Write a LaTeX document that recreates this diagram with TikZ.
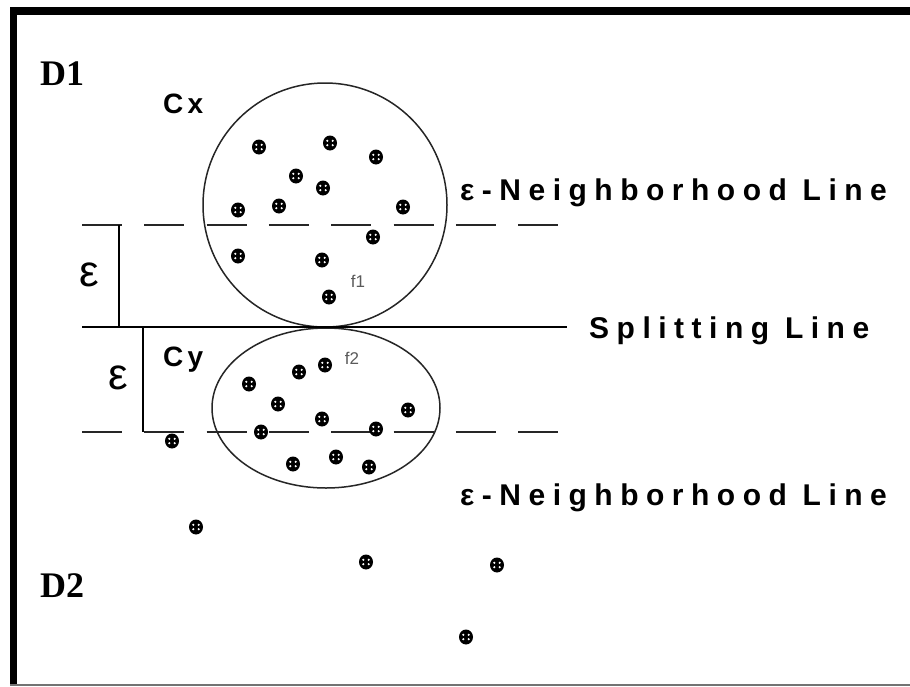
\documentclass[tikz,border=0pt]{standalone}
\usepackage{fontspec}
\setmainfont{Liberation Sans}
\newfontfamily\lsp[LetterSpace=25]{Liberation Sans}
\newfontfamily\lspc[LetterSpace=15]{Liberation Sans}
\newfontfamily\serifb{Liberation Serif}
\usetikzlibrary{shapes.geometric}
\definecolor{lblgray}{RGB}{90,90,90}
\begin{document}
\begin{tikzpicture}[x=1pt,y=-1pt,
  pt/.style={ellipse,fill=black,minimum width=14pt,minimum height=15pt,inner sep=0pt,
    path picture={
      \fill[white] ([shift={(-2.7pt,-2.2pt)}]path picture bounding box.center) circle (1.2pt);
      \fill[white] ([shift={(2.7pt,-2.2pt)}]path picture bounding box.center) circle (1.2pt);
      \fill[white] ([shift={(-2.7pt,2.2pt)}]path picture bounding box.center) circle (1.2pt);
      \fill[white] ([shift={(2.7pt,2.2pt)}]path picture bounding box.center) circle (1.2pt);
    }},
  bigsans/.style={font=\lsp\bfseries\fontsize{30}{34}\selectfont,inner sep=0pt,anchor=base west},
  clab/.style={font=\lspc\bfseries\fontsize{28}{32}\selectfont,inner sep=0pt,anchor=base west},
  dlab/.style={font=\serifb\bfseries\fontsize{36}{40}\selectfont,inner sep=0pt,anchor=base west},
  eps/.style={font=\fontsize{44}{48}\selectfont,inner sep=0pt},
  flab/.style={font=\fontsize{17}{20}\selectfont,text=lblgray,inner sep=0pt},
  dline/.style={line width=1.8pt,draw=black!85,dash pattern=on 40pt off 22.3pt},
  sline/.style={line width=1.8pt,draw=black},
  shape line/.style={draw=black!85,line width=1.5pt}
]
\useasboundingbox (0,0) rectangle (910,686);
\fill[white] (0,0) rectangle (910,686);
% frame
\draw[line width=8pt] (10,11) -- (910,11);
\draw[line width=7pt] (13.5,7) -- (13.5,686);
\draw[line width=2pt,draw=black!55] (10,685) -- (910,685);

% clusters
\node[shape line,circle,minimum size=244pt,inner sep=0pt] (Cx) at (325,205) {};
\node[shape line,ellipse,minimum width=228pt,minimum height=160pt,inner sep=0pt] (Cy) at (326,408) {};

% lines
\coordinate (ua) at (82,225); \coordinate (ub) at (558,225);
\coordinate (la) at (82,432); \coordinate (lb) at (558,432);
\coordinate (sa) at (82,327); \coordinate (sb) at (567,327);
\coordinate (v1t) at (119,225); \coordinate (v1b) at (119,327);
\coordinate (v2t) at (143,327); \coordinate (v2b) at (143,432);
\draw[dline] (ua) -- (ub);
\draw[dline] (la) -- (lb);
\draw[sline] (sa) -- (sb);
\draw[sline] (v1t) -- (v1b);
\draw[sline] (v2t) -- (v2b);

% points in Cx
\node[pt] (p1) at (259,147) {};
\node[pt] (p2) at (330,143) {};
\node[pt] (p3) at (376,157) {};
\node[pt] (p4) at (296,176) {};
\node[pt] (p5) at (323,188) {};
\node[pt] (p6) at (238,210) {};
\node[pt] (p7) at (279,206) {};
\node[pt] (p8) at (403,207) {};
\node[pt] (p9) at (373,237) {};
\node[pt] (p10) at (238,256) {};
\node[pt] (p11) at (322,260) {};
\node[pt] (f1) at (329,297) {};
% points in Cy
\node[pt] (f2) at (325,365) {};
\node[pt] (q1) at (299,372) {};
\node[pt] (q2) at (249,384) {};
\node[pt] (q3) at (278,404) {};
\node[pt] (q4) at (408,410) {};
\node[pt] (q5) at (322,419) {};
\node[pt] (q6) at (261,432) {};
\node[pt] (q7) at (376,429) {};
\node[pt] (q8) at (293,464) {};
\node[pt] (q9) at (336,457) {};
\node[pt] (q10) at (369,467) {};
% outside points
\node[pt] (r1) at (172,441) {};
\node[pt] (r2) at (196,527) {};
\node[pt] (r3) at (366,562) {};
\node[pt] (r4) at (497,565) {};
\node[pt] (r5) at (466,637) {};

% labels
\node[flab] (f1l) at (358,281) {f1};
\node[flab] (f2l) at (352,358) {f2};
\node[dlab] (D1) at (40,85) {D1};
\node[dlab] (D2) at (40,597) {D2};
\node[clab] (Cxl) at (163,113) {Cx};
\node[clab] (Cyl) at (163,366) {Cy};
\node[eps] (e1) at (89,275) {ε};
\node[eps] (e2) at (118,378) {ε};
\node[bigsans] (n1) at (460,200) {ε-Neighborhood Line};
\node[bigsans] (n2) at (460,505) {ε-Neighborhood Line};
\node[bigsans] (sl) at (589,338) {Splitting Line};
\end{tikzpicture}
\end{document}
